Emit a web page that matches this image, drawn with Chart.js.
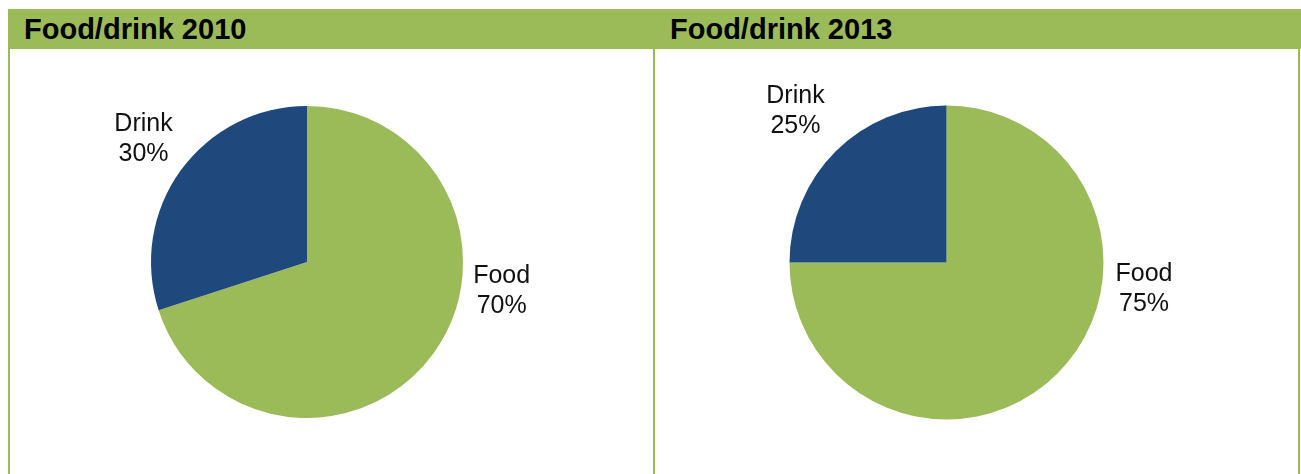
<!DOCTYPE html>
<html>
<head>
<meta charset="utf-8">
<script src="https://cdn.jsdelivr.net/npm/chart.js@4"></script>
<style>
  html, body { margin: 0; padding: 0; background: #ffffff; }
  body { width: 1301px; height: 474px; position: relative; overflow: hidden; font-family: "Liberation Sans", Arial, sans-serif; }
  .band { position: absolute; left: 8px; top: 9px; width: 1293px; height: 40px; background: #9BBB59; }
  .rule { position: absolute; top: 49px; width: 2px; height: 425px; background: #9BBB59; }
  .title { position: absolute; top: 9px; height: 40px; line-height: 40px; font-weight: bold; font-size: 29px; color: #000; white-space: nowrap; }
  canvas { position: absolute; top: 49px; }
</style>
</head>
<body>
<div class="band"></div>
<div class="rule" style="left:8px"></div>
<div class="rule" style="left:653px"></div>
<div class="rule" style="left:1298px"></div>
<div class="title" id="t0" style="left:24px"></div>
<div class="title" id="t1" style="left:670px"></div>
<canvas id="c0" width="643" height="425" style="left:10px"></canvas>
<canvas id="c1" width="643" height="425" style="left:655px"></canvas>
<script>
// Shares of food and drink, by year
const categories = ['Food', 'Drink'];
const values2010 = [70, 30];
const values2013 = [75, 25];
const chartTitles = ['Food/drink 2010', 'Food/drink 2013'];

const sliceColors = ['#9BBB59', '#1F497D'];

// Where each slice's label block sits, relative to the pie centre, in radii
const labelSpots = [
  [[1.248, 0.184], [-1.048, -0.788]],
  [[1.258, 0.169], [-0.962, -0.967]]
];

// Padding that places each pie inside its panel
const pads = [
  { left: 141, right: 190, top: 57, bottom: 56 },
  { left: 134.5, right: 194.5, top: 56.5, bottom: 54.5 }
];

const sliceLabels = {
  id: 'sliceLabels',
  afterDatasetsDraw(chart, args, opts) {
    const ctx = chart.ctx;
    const meta = chart.getDatasetMeta(0);
    const data = chart.data.datasets[0].data;
    ctx.save();
    ctx.fillStyle = '#111111';
    ctx.font = '25px "Liberation Sans", Arial, sans-serif';
    ctx.textAlign = 'center';
    ctx.textBaseline = 'middle';
    meta.data.forEach((arc, i) => {
      const p = arc.getProps(['x', 'y', 'outerRadius'], true);
      const [fx, fy] = opts.spots[i];
      const cx = p.x + fx * p.outerRadius;
      const cy = p.y + fy * p.outerRadius;
      const gap = 30;
      ctx.fillText(chart.data.labels[i], cx, cy - gap / 2);
      ctx.fillText(data[i] + '%', cx, cy + gap / 2);
    });
    ctx.restore();
  }
};

function makePie(idx, values) {
  document.getElementById('t' + idx).textContent = chartTitles[idx];
  return new Chart(document.getElementById('c' + idx), {
    type: 'pie',
    data: {
      labels: categories,
      datasets: [{
        data: values,
        backgroundColor: sliceColors,
        borderWidth: 0
      }]
    },
    options: {
      responsive: false,
      devicePixelRatio: 1,
      animation: false,
      layout: { padding: pads[idx] },
      plugins: {
        legend: { display: false },
        tooltip: { enabled: false },
        sliceLabels: { spots: labelSpots[idx] }
      }
    },
    plugins: [sliceLabels]
  });
}

makePie(0, values2010);
makePie(1, values2013);
</script>
</body>
</html>
